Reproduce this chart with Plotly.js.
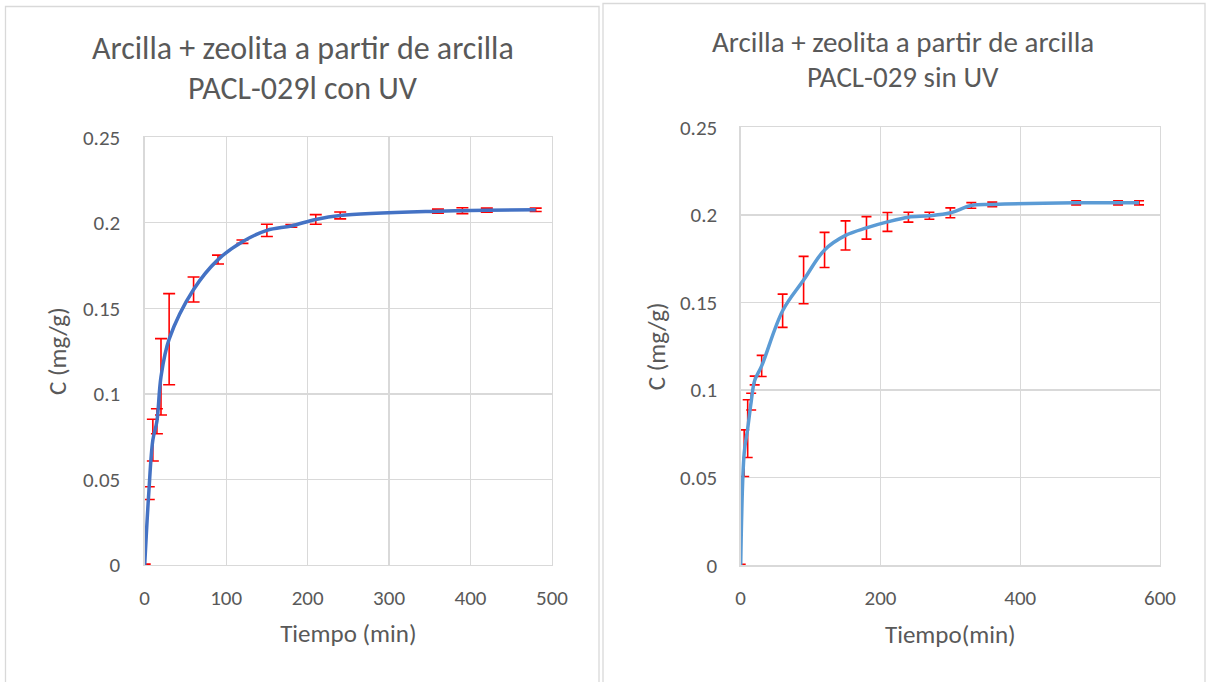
<!DOCTYPE html>
<html>
<head>
<meta charset="utf-8">
<script src="https://cdn.plot.ly/plotly-3.0.1.min.js"></script>
<style>
html,body{margin:0;padding:0;background:#fff;}
#chart{width:1208px;height:682px;}
</style>
</head>
<body>
<div id="chart"></div>
<script>
// Left chart: con UV
const leftTime = [0, 5, 10, 15, 20, 30, 60, 90, 120, 150, 180, 210, 240, 360, 390, 420, 480];
const leftC    = [0, 0.042, 0.073, 0.084, 0.110, 0.132, 0.161, 0.1785, 0.189, 0.1956, 0.1982, 0.202, 0.2043, 0.2068, 0.2071, 0.2074, 0.2076];
const leftErr  = [0.0005, 0.0037, 0.0122, 0.0073, 0.0223, 0.0266, 0.0073, 0.0026, 0.001, 0.0036, 0.0008, 0.0028, 0.002, 0.0012, 0.0017, 0.0012, 0.001];

// Right chart: sin UV
const rightTime = [0, 5, 10, 15, 20, 30, 60, 90, 120, 150, 180, 210, 240, 270, 300, 330, 360, 480, 540, 570];
const rightC    = [0, 0.064, 0.078, 0.0934, 0.1055, 0.1138, 0.1453, 0.1628, 0.180, 0.1883, 0.1926, 0.196, 0.1987, 0.1995, 0.2012, 0.2054, 0.206, 0.2069, 0.2069, 0.2069];
const rightErr  = [0.0005, 0.0133, 0.0165, 0.0048, 0.0025, 0.006, 0.0095, 0.0135, 0.010, 0.0083, 0.0064, 0.0054, 0.0028, 0.002, 0.0028, 0.0016, 0.0013, 0.0012, 0.0012, 0.0012];

const leftTitle = ["Arcilla + zeolita a partir de arcilla", "PACL-029l con UV"];
const rightTitle = ["Arcilla + zeolita a partir de arcilla", "PACL-029 sin UV"];
const xTitleLeft = "Tiempo (min)";
const xTitleRight = "Tiempo(min)";
const yTitle = "C (mg/g)";

const W = 1208, H = 682;
const FONT = "Carlito, Calibri, Lato, sans-serif";
const TXT = "#595959";
const GRID = "#d9d9d9";
const px = v => v / W;
const py = v => 1 - v / H;

const traces = [
  {
    x: leftTime, y: leftC, xaxis: 'x', yaxis: 'y', type: 'scatter', mode: 'lines',
    line: {color: '#4472C4', width: 3.5, shape: 'spline', smoothing: 1},
    error_y: {type: 'data', array: leftErr, visible: true, color: '#FF0000', thickness: 1.6, width: 6},
    hoverinfo: 'skip'
  },
  {
    x: rightTime, y: rightC, xaxis: 'x2', yaxis: 'y2', type: 'scatter', mode: 'lines',
    line: {color: '#5B9BD5', width: 3.5, shape: 'spline', smoothing: 1},
    error_y: {type: 'data', array: rightErr, visible: true, color: '#FF0000', thickness: 1.6, width: 5},
    hoverinfo: 'skip'
  }
];

const axisCommon = {
  showgrid: true, gridcolor: GRID, gridwidth: 1.3,
  zeroline: false, showline: true, linecolor: GRID, linewidth: 1.3, mirror: true,
  ticks: '', tickfont: {family: FONT, size: 21, color: TXT},
  fixedrange: true
};
const axTitleFont = {family: FONT, size: 25, color: TXT};

const layout = {
  width: W, height: H,
  margin: {l: 0, r: 0, t: 0, b: 0},
  paper_bgcolor: '#fff', plot_bgcolor: '#fff',
  showlegend: false,
  xaxis: Object.assign({}, axisCommon, {
    domain: [px(144.7), px(552)], range: [0, 500], dtick: 100, tick0: 0,
    anchor: 'y', ticklabelstandoff: 13,
    title: {text: xTitleLeft, font: axTitleFont, standoff: 15}
  }),
  yaxis: Object.assign({}, axisCommon, {
    domain: [py(565), py(137.3)], range: [0, 0.25], dtick: 0.05, tick0: 0,
    anchor: 'x', ticklabelstandoff: 19,
    title: {text: yTitle, font: axTitleFont, standoff: 9}
  }),
  xaxis2: Object.assign({}, axisCommon, {
    domain: [px(740.7), px(1160)], range: [0, 600], dtick: 200, tick0: 0,
    anchor: 'y2', ticklabelstandoff: 13,
    title: {text: xTitleRight, font: axTitleFont, standoff: 15}
  }),
  yaxis2: Object.assign({}, axisCommon, {
    domain: [py(565.3), py(127.3)], range: [0, 0.25], dtick: 0.05, tick0: 0,
    anchor: 'x2', ticklabelstandoff: 18,
    title: {text: yTitle, font: axTitleFont, standoff: 7}
  }),
  shapes: [
    {type: 'rect', xref: 'paper', yref: 'paper', x0: px(5.5), x1: px(599), y0: py(700), y1: py(6.5),
     line: {color: GRID, width: 1.3}, fillcolor: 'rgba(0,0,0,0)', layer: 'below'},
    {type: 'rect', xref: 'paper', yref: 'paper', x0: px(603), x1: px(1205), y0: py(700), y1: py(3.5),
     line: {color: GRID, width: 1.3}, fillcolor: 'rgba(0,0,0,0)', layer: 'below'}
  ],
  annotations: [
    {text: leftTitle[0], xref: 'paper', yref: 'paper', x: px(302.5), y: py(48), xanchor: 'center', yanchor: 'middle', showarrow: false, font: {family: FONT, size: 32, color: TXT}},
    {text: leftTitle[1], xref: 'paper', yref: 'paper', x: px(302.5), y: py(88), xanchor: 'center', yanchor: 'middle', showarrow: false, font: {family: FONT, size: 32, color: TXT}},
    {text: rightTitle[0], xref: 'paper', yref: 'paper', x: px(903.5), y: py(42), xanchor: 'center', yanchor: 'middle', showarrow: false, font: {family: FONT, size: 29, color: TXT}},
    {text: rightTitle[1], xref: 'paper', yref: 'paper', x: px(903.5), y: py(77), xanchor: 'center', yanchor: 'middle', showarrow: false, font: {family: FONT, size: 29, color: TXT}}
  ]
};

Plotly.newPlot('chart', traces, layout, {displayModeBar: false, staticPlot: true});
</script>
</body>
</html>
